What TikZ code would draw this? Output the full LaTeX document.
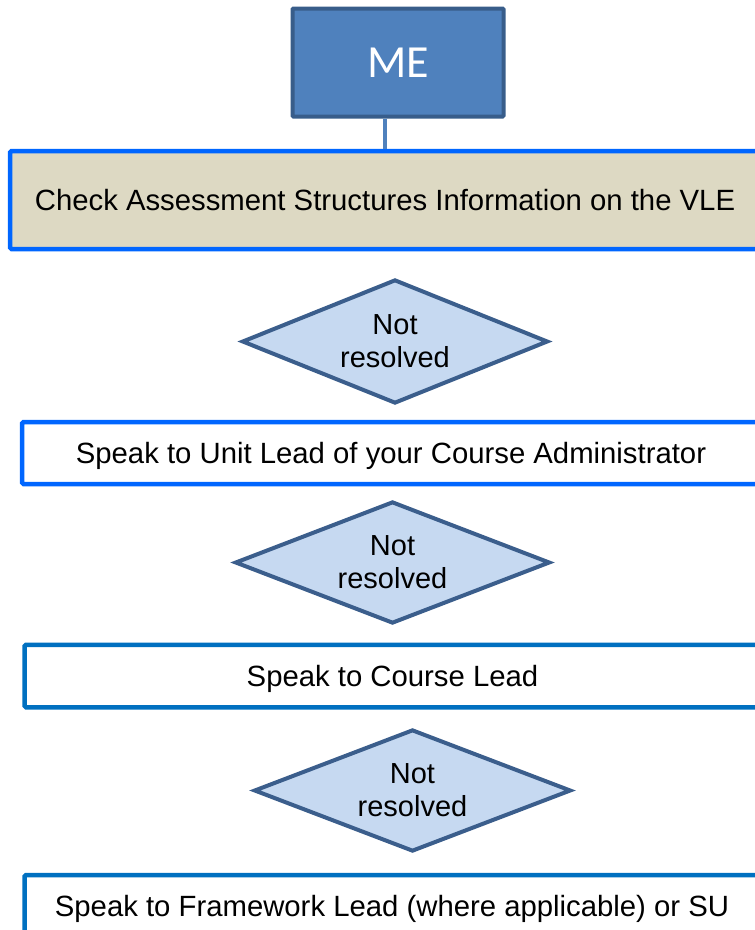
\documentclass[tikz,border=0pt]{standalone}
\usepackage{fontspec}
\setmainfont{Liberation Sans}
\newfontfamily\mefont{Carlito}
\usetikzlibrary{shapes.geometric}
\definecolor{mefill}{HTML}{4F81BD}
\definecolor{meborder}{HTML}{385D8A}
\definecolor{tanfill}{HTML}{DDD9C3}
\definecolor{brightblue}{HTML}{0066FF}
\definecolor{darkblue}{HTML}{0070C0}
\definecolor{dfill}{HTML}{C6D9F1}
\definecolor{dborder}{HTML}{3B5E8C}
\tikzset{
  mebox/.style={draw=meborder, fill=mefill, line width=4pt, rounded corners=1pt, inner sep=0pt,
    minimum width=211pt, minimum height=108pt, text=white, font=\mefont\fontsize{46}{50}\selectfont},
  stepbox/.style={draw=#1, line width=4.5pt, rounded corners=1.5pt, inner sep=0pt,
    text height=23pt, text depth=2pt, font=\fontsize{29.3}{34}\selectfont},
  decision/.style={diamond, draw=dborder, fill=dfill, line width=4pt, inner sep=0pt, aspect=2.5,
    align=center, font=\fontsize{29}{33}\selectfont},
  link/.style={draw=mefill, line width=4.5pt}
}
\begin{document}
\begin{tikzpicture}[x=1pt,y=-1pt]
\useasboundingbox (0,0) rectangle (755,930);
\clip (0,0) rectangle (755,930);
\node[mebox] (me) at (398,62.5) {ME};
\node[stepbox=brightblue, fill=tanfill, minimum width=750pt, minimum height=98pt] (s1) at (385,200)
  {Check Assessment Structures Information on the VLE};
\coordinate (t1) at (385,149);
\draw[link] (me.south -| t1) -- (t1);
\node[decision, minimum width=306pt, minimum height=124pt] (d1) at (395,341.5) {Not\\resolved};
\node[stepbox=brightblue, fill=white, minimum width=738pt, minimum height=62pt] (s2) at (391,453)
  {Speak to Unit Lead of your Course Administrator};
\node[decision, minimum width=315pt, minimum height=122pt] (d2) at (392.5,562.5) {Not\\resolved};
\node[stepbox=darkblue, fill=white, minimum width=736pt, minimum height=62.5pt] (s3) at (392.5,676)
  {Speak to Course Lead};
\node[decision, minimum width=317pt, minimum height=122pt] (d3) at (412.5,790.5) {Not\\resolved};
\node[stepbox=darkblue, fill=white, minimum width=735pt, minimum height=62pt] (s4) at (392,906)
  {Speak to Framework Lead (where applicable) or SU};
\end{tikzpicture}
\end{document}
